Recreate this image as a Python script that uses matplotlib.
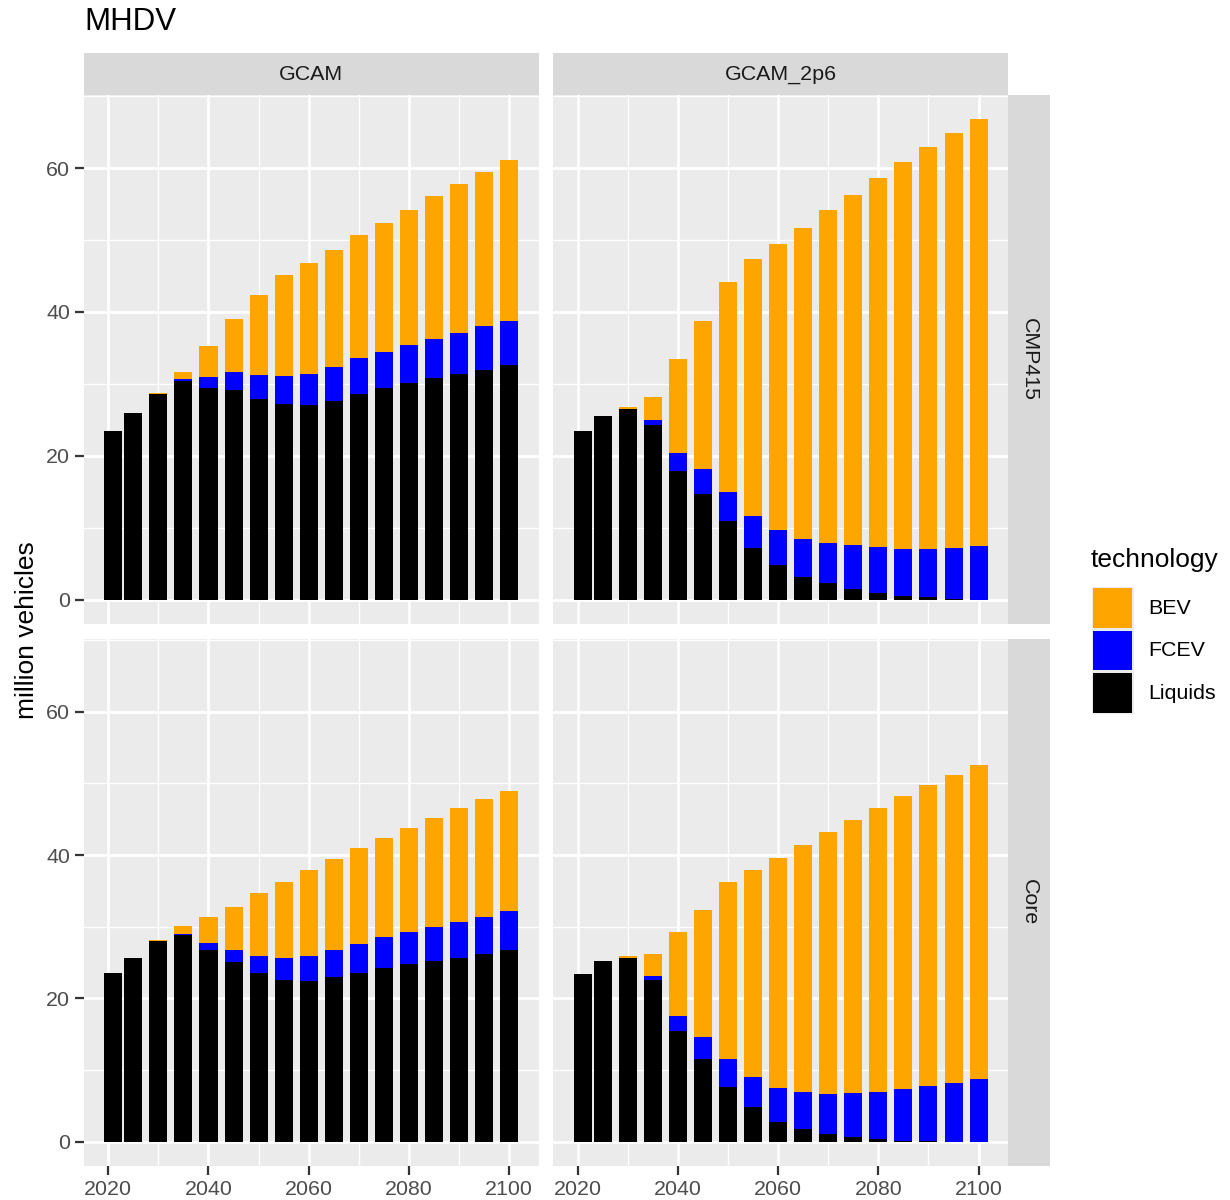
#MHDV stock by technology, GCAM vs GCAM_2p6, CMP415 vs Core
import matplotlib
matplotlib.use("Agg")
import matplotlib.pyplot as plt
from matplotlib.patches import Rectangle
from matplotlib.ticker import MultipleLocator
import numpy as np

plt.rcParams['font.family'] = ['Liberation Sans', 'DejaVu Sans']

#years of the model periods
years = [2021, 2025, 2030, 2035, 2040, 2045, 2050, 2055, 2060, 2065,
         2070, 2075, 2080, 2085, 2090, 2095, 2100]

#column and row facets
models = ['GCAM', 'GCAM_2p6']
scenarios = ['CMP415', 'Core']

#technology names, stacked from bottom to top
techs = ['Liquids', 'FCEV', 'BEV']
tech_colors = {'BEV': '#FFA500', 'FCEV': '#0000FF', 'Liquids': '#000000'}

#GCAM / CMP415 (million vehicles)
gcam_cmp_liquids = [23.5, 26.0, 28.65, 30.4, 29.5, 29.2, 27.9, 27.2, 27.1, 27.6,
                    28.65, 29.4, 30.1, 30.8, 31.4, 32.0, 32.7]
gcam_cmp_fcev = [0, 0, 0, 0.3, 1.4, 2.4, 3.35, 3.95, 4.3, 4.7,
                 4.95, 5.1, 5.3, 5.5, 5.7, 6.0, 6.1]
gcam_cmp_bev = [0, 0, 0.15, 1.0, 4.4, 7.4, 11.15, 13.95, 15.4, 16.3,
                17.1, 17.9, 18.8, 19.8, 20.7, 21.4, 22.3]

#GCAM_2p6 / CMP415
g26_cmp_liquids = [23.4, 25.6, 26.5, 24.3, 17.9, 14.7, 10.9, 7.2, 4.9, 3.2,
                   2.3, 1.5, 0.97, 0.6, 0.37, 0.2, 0.05]
g26_cmp_fcev = [0, 0, 0, 0.65, 2.5, 3.45, 4.15, 4.5, 4.8, 5.3,
                5.6, 6.1, 6.33, 6.5, 6.73, 7.0, 7.45]
g26_cmp_bev = [0, 0, 0.3, 3.25, 13.1, 20.65, 29.05, 35.7, 39.8, 43.2,
               46.3, 48.7, 51.3, 53.7, 55.8, 57.7, 59.3]

#GCAM / Core
gcam_core_liquids = [23.5, 25.6, 27.97, 28.8, 26.7, 25.1, 23.5, 22.5, 22.4, 23.0,
                     23.6, 24.2, 24.8, 25.2, 25.65, 26.15, 26.7]
gcam_core_fcev = [0, 0, 0, 0.2, 1.0, 1.7, 2.4, 3.1, 3.5, 3.7,
                  4.0, 4.3, 4.5, 4.8, 5.05, 5.25, 5.5]
gcam_core_bev = [0, 0, 0.13, 1.05, 3.7, 6.0, 8.8, 10.7, 12.0, 12.7,
                 13.4, 13.9, 14.5, 15.1, 15.8, 16.4, 16.8]

#GCAM_2p6 / Core
g26_core_liquids = [23.4, 25.2, 25.65, 22.5, 15.4, 11.6, 7.6, 4.8, 2.8, 1.8,
                    1.15, 0.7, 0.37, 0.15, 0.05, 0.02, 0.01]
g26_core_fcev = [0, 0, 0, 0.6, 2.1, 3.0, 3.9, 4.3, 4.75, 5.15,
                 5.55, 6.05, 6.58, 7.15, 7.75, 8.18, 8.74]
g26_core_bev = [0, 0, 0.25, 3.15, 11.8, 17.8, 24.75, 28.8, 32.05, 34.45,
                36.5, 38.15, 39.65, 40.9, 42.0, 42.95, 43.75]

#group the series per panel (row, column)
panel_data = {
    ('CMP415', 'GCAM'): {'Liquids': gcam_cmp_liquids, 'FCEV': gcam_cmp_fcev, 'BEV': gcam_cmp_bev},
    ('CMP415', 'GCAM_2p6'): {'Liquids': g26_cmp_liquids, 'FCEV': g26_cmp_fcev, 'BEV': g26_cmp_bev},
    ('Core', 'GCAM'): {'Liquids': gcam_core_liquids, 'FCEV': gcam_core_fcev, 'BEV': gcam_core_bev},
    ('Core', 'GCAM_2p6'): {'Liquids': g26_core_liquids, 'FCEV': g26_core_fcev, 'BEV': g26_core_bev},
}

W, H = 1230, 1200
fig = plt.figure(figsize=(W / 100, H / 100), dpi=100)

#pixel box -> figure fraction
def fbox(x0, y0, x1, y1):
    return [x0 / W, 1 - y1 / H, (x1 - x0) / W, (y1 - y0) / H]

col_x = [(83.5, 539), (553, 1008.3)]
row_y = [(95, 624), (639, 1165.7)]

#shared scales (ggplot style 5% expansion)
bar_w = 0.9 * 4
xmin, xmax = years[0] - bar_w / 2, years[-1] + bar_w / 2
xpad = 0.05 * (xmax - xmin)
ymax = max(np.sum([d[t] for t in techs], axis=0).max() for d in panel_data.values())
ypad = 0.05 * ymax

tick_kw = dict(colors='#333333', labelcolor='#4D4D4D', labelsize=15.4,
               length=6.5, width=1.6)

for r, scen in enumerate(scenarios):
    for c, model in enumerate(models):
        x0, x1 = col_x[c]
        y0, y1 = row_y[r]
        ax = fig.add_axes(fbox(x0, y0, x1, y1))
        ax.set_facecolor('#EBEBEB')
        for s in ax.spines.values():
            s.set_visible(False)
        ax.set_axisbelow(True)

        data = panel_data[(scen, model)]
        bottom = np.zeros(len(years))
        for t in techs:
            vals = np.array(data[t])
            ax.bar(years, vals, width=bar_w, bottom=bottom, color=tech_colors[t],
                   linewidth=0)
            bottom = bottom + vals

        ax.set_xlim(xmin - xpad, xmax + xpad)
        ax.set_ylim(-ypad, ymax + ypad)
        ax.xaxis.set_major_locator(MultipleLocator(20))
        ax.xaxis.set_minor_locator(MultipleLocator(10))
        ax.yaxis.set_major_locator(MultipleLocator(20))
        ax.yaxis.set_minor_locator(MultipleLocator(10))
        ax.grid(which='major', color='white', linewidth=2.0)
        ax.grid(which='minor', color='white', linewidth=1.0)
        ax.tick_params(which='minor', length=0)
        ax.tick_params(axis='both', which='major', **tick_kw)
        ax.tick_params(axis='x', pad=4)
        ax.tick_params(axis='y', pad=3)

        if r == 0:
            ax.tick_params(axis='x', which='major', length=0, labelbottom=False)
        if c == 1:
            ax.tick_params(axis='y', which='major', length=0, labelleft=False)

        #column strip on top
        if r == 0:
            sax = fig.add_axes(fbox(x0, 53.3, x1, y0))
            sax.set_facecolor('#D9D9D9')
            sax.set_xticks([])
            sax.set_yticks([])
            for s in sax.spines.values():
                s.set_visible(False)
            sax.text(0.5, 0.5, model, ha='center', va='center', fontsize=15.4,
                     color='#1A1A1A', transform=sax.transAxes)

        #row strip on the right
        if c == 1:
            sax = fig.add_axes(fbox(x1, y0, 1050, y1))
            sax.set_facecolor('#D9D9D9')
            sax.set_xticks([])
            sax.set_yticks([])
            for s in sax.spines.values():
                s.set_visible(False)
            sax.text(0.5, 0.5, scen, ha='center', va='center', fontsize=15.4,
                     color='#1A1A1A', rotation=-90, transform=sax.transAxes)

#title and axis label
fig.text(84 / W, 1 - 22 / H, 'MHDV', ha='left', va='center', fontsize=22.5, color='black')
fig.text(27 / W, 1 - 630 / H, 'million vehicles', ha='center', va='center',
         rotation=90, fontsize=19, color='black')

#legend drawn by hand like the ggplot guide
fig.text(1091 / W, 1 - 560 / H, 'technology', ha='left', va='center', fontsize=19, color='black')
legend_order = ['BEV', 'FCEV', 'Liquids']
for i, t in enumerate(legend_order):
    ky0 = 586.7 + i * 42.5
    fig.patches.append(Rectangle((1091.5 / W, 1 - (ky0 + 42.5) / H), 42 / W, 42.5 / H,
                                 transform=fig.transFigure, facecolor='#EBEBEB',
                                 edgecolor='none'))
    fig.patches.append(Rectangle((1093 / W, 1 - (ky0 + 41) / H), 39 / W, 39.5 / H,
                                 transform=fig.transFigure, facecolor=tech_colors[t],
                                 edgecolor='none'))
    fig.text(1148 / W, 1 - (ky0 + 21.5) / H, t, ha='left', va='center',
             fontsize=15.4, color='black')

fig.savefig('out.png', dpi=100, facecolor='white')
